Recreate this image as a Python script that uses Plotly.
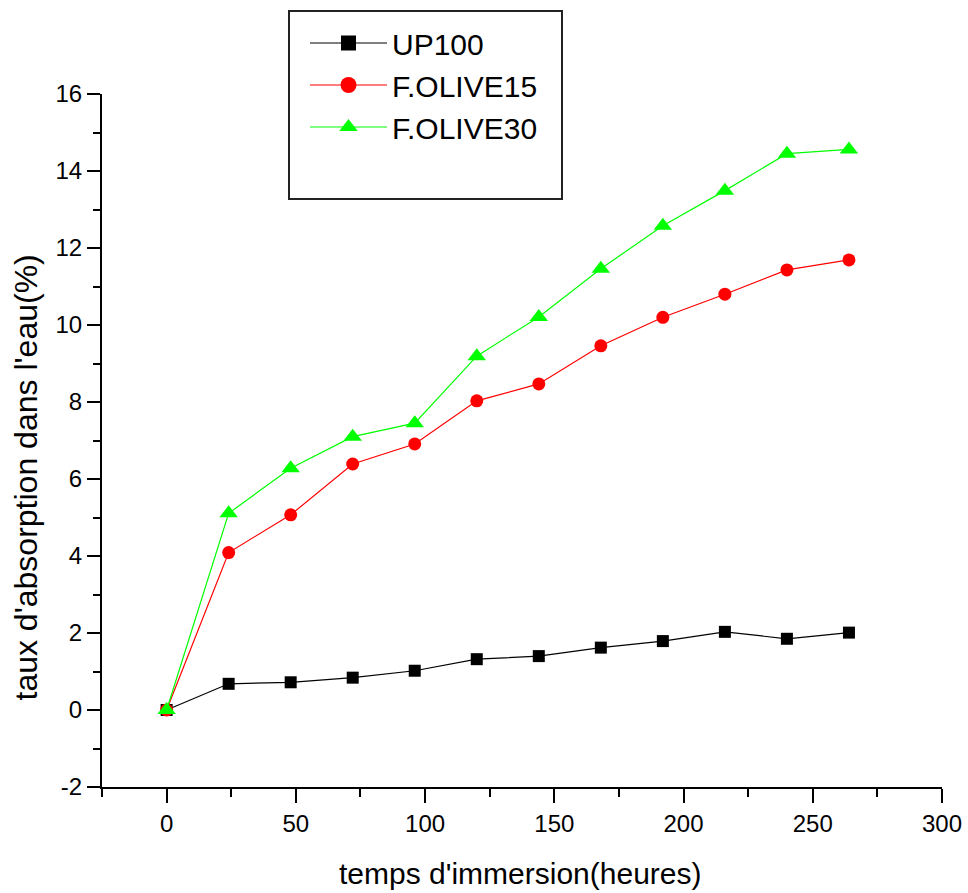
import plotly.graph_objects as go

hours = [0, 24, 48, 72, 96, 120, 144, 168, 192, 216, 240, 264]
up100 = [0.0, 0.68, 0.72, 0.84, 1.02, 1.32, 1.40, 1.62, 1.79, 2.03, 1.85, 2.01]
folive15 = [0.0, 4.09, 5.07, 6.39, 6.91, 8.03, 8.47, 9.46, 10.20, 10.80, 11.43, 11.69]
folive30 = [0.0, 5.11, 6.28, 7.10, 7.45, 9.19, 10.21, 11.46, 12.58, 13.49, 14.45, 14.56]

series_names = ["UP100", "F.OLIVE15", "F.OLIVE30"]
x_title = "temps d'immersion(heures)"
y_title = "taux d'absorption dans l'eau(%)"
x_tickvals = [0, 50, 100, 150, 200, 250, 300]
x_ticktext = ["0", "50", "100", "150", "200", "250", "300"]
y_tickvals = [-2, 0, 2, 4, 6, 8, 10, 12, 14, 16]
y_ticktext = ["-2", "0", "2", "4", "6", "8", "10", "12", "14", "16"]

FONT = "Liberation Sans, Arial, sans-serif"
W, H = 968, 893
L, R, T, B = 102, 26, 94, 106
PW, PH = W - L - R, H - T - B

def px_x(p):
    return (p - L) / PW

def px_y(p):
    return (H - B - p) / PH

fig = go.Figure()
styles = [
    dict(color="#000000", symbol="square", size=12, legsize=15),
    dict(color="#ff0000", symbol="circle", size=13, legsize=16),
    dict(color="#00ff00", symbol="triangle-up", size=16, legsize=16),
]
data = [up100, folive15, folive30]
legends = ["legend", "legend2", "legend3"]
for name, vals, st, lg in zip(series_names, data, styles, legends):
    fig.add_trace(go.Scatter(
        x=hours, y=vals, name=name, mode="lines+markers",
        line=dict(color=st["color"], width=1.2),
        marker=dict(color=st["color"], symbol=st["symbol"], size=st["size"],
                    line=dict(width=0)),
        showlegend=False,
    ))
    # legend entry (slightly larger symbol, as in the original)
    fig.add_trace(go.Scatter(
        x=[None], y=[None], name=name, mode="lines+markers",
        line=dict(color=st["color"], width=1.2),
        marker=dict(color=st["color"], symbol=st["symbol"], size=st["legsize"],
                    line=dict(width=0)),
        legend=lg, showlegend=True,
    ))

legend_y_px = [43, 85, 127]
leg_common = dict(
    font=dict(family=FONT, size=30, color="#000"),
    bgcolor="rgba(0,0,0,0)", borderwidth=0,
    xanchor="left", yanchor="middle", itemwidth=77,
    itemclick=False, itemdoubleclick=False,
)
layout_legends = {}
for lg, ypx in zip(legends, legend_y_px):
    layout_legends[lg] = dict(x=px_x(305), y=px_y(ypx), **leg_common)

fig.update_layout(
    width=W, height=H,
    margin=dict(l=L, r=R, t=T, b=B, pad=0, autoexpand=False),
    paper_bgcolor="white", plot_bgcolor="white",
    font=dict(family=FONT, color="#000"),
    xaxis=dict(
        range=[-25, 300], tickmode="array", tickvals=x_tickvals, ticktext=x_ticktext,
        ticks="outside", ticklen=14, tickwidth=2, tickcolor="#000",
        minor=dict(ticks="outside", ticklen=8, tickwidth=2, tickcolor="#000",
                   tick0=-25, dtick=25),
        showline=True, linewidth=2, linecolor="#000",
        showgrid=False, zeroline=False, automargin=False,
        tickfont=dict(family=FONT, size=24, color="#000"),
    ),
    yaxis=dict(
        range=[-2, 16], tickmode="array", tickvals=y_tickvals, ticktext=y_ticktext,
        ticks="outside", ticklen=13, tickwidth=2, tickcolor="#000",
        minor=dict(ticks="outside", ticklen=7, tickwidth=2, tickcolor="#000",
                   tick0=-2, dtick=1),
        showline=True, linewidth=2, linecolor="#000",
        showgrid=False, zeroline=False, automargin=False,
        tickfont=dict(family=FONT, size=24, color="#000"),
    ),
    shapes=[dict(
        type="rect", xref="paper", yref="paper",
        x0=px_x(289), x1=px_x(562), y0=px_y(199), y1=px_y(11),
        line=dict(color="#222", width=2), fillcolor="rgba(0,0,0,0)",
        layer="above",
    )],
    annotations=[
        dict(text=x_title, xref="paper", yref="paper",
             x=px_x(520.5), y=px_y(873), xanchor="center", yanchor="middle",
             showarrow=False, font=dict(family=FONT, size=30, color="#000")),
        dict(text=y_title, xref="paper", yref="paper", textangle=-90,
             x=px_x(26), y=px_y(477.5), xanchor="center", yanchor="middle",
             showarrow=False, font=dict(family=FONT, size=32, color="#000")),
    ],
    **layout_legends,
)

fig.write_html("out.html")
